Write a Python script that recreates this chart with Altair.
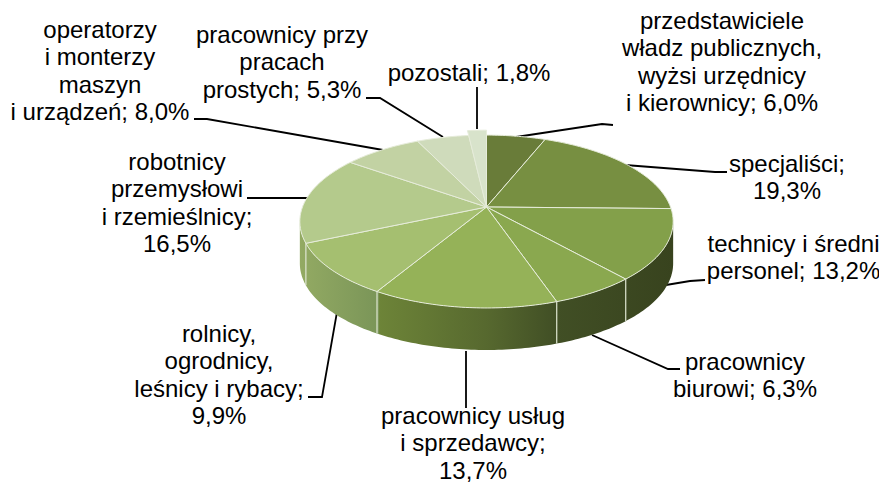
import math
import altair as alt

categories = ["przedstawiciele\nwładz publicznych,\nwyżsi urzędnicy\ni kierownicy; 6,0%", "specjaliści;\n19,3%",
              "technicy i średni\npersonel; 13,2%", "pracownicy\nbiurowi; 6,3%",
              "pracownicy usług\ni sprzedawcy;\n13,7%", "rolnicy,\nogrodnicy,\nleśnicy i rybacy;\n9,9%",
              "robotnicy\nprzemysłowi\ni rzemieślnicy;\n16,5%", "operatorzy\ni monterzy\nmaszyn\ni urządzeń; 8,0%",
              "pracownicy przy\npracach\nprostych; 5,3%", "pozostali; 1,8%"]
shares = [6.0, 19.3, 13.2, 6.3, 13.7, 9.9, 16.5, 8.0, 5.3, 1.8]
colors = ["#697c39", "#778f41", "#83a04a", "#8aa84f", "#95b258", "#a5bf70", "#b4ca8c", "#c2d2a3", "#cfdbbb", "#d8e3cb"]
label_x = [722, 787, 793.5, 745, 473, 219, 177, 100, 282, 469]
label_y = [29, 172, 252, 370, 424, 342, 170, 38, 43, 81]
leaders = [[(516, 137), (602, 124), (613, 125)], [(625, 165), (715, 172), (727, 172)],
           [(660, 286), (690, 281), (705, 280)], [(592, 335), (668, 369), (680, 369)],
           [(466, 351), (466, 408)], [(337, 312), (322, 397), (308, 397)],
           [(308, 198), (247, 198)], [(383, 150), (207, 119), (194, 119)],
           [(443, 137), (380, 98), (366, 98)], [(477, 129), (477, 87)]]
wall_stops = [(302, "#93aa63"), (380, "#7a9558"), (381, "#6d8438"), (486, "#57692f"), (555, "#414f25"), (672, "#38431e")]

MX, MY = 8, 8
HX, HY, R, K, P, DEPTH = 486.5 - MX, 207 - MY, 184, 84, 0.168, 42


def rim(theta, r=1.0):
    X, Y = r * math.sin(theta), -r * math.cos(theta)
    d = 1 - P * Y
    return [HX + R * X / d, HY + K * Y / d]


def feature(ring, color):
    return {"type": "Feature", "geometry": {"type": "Polygon", "coordinates": [ring]}, "properties": {"c": color}}


def line(points):
    return {"type": "Feature", "geometry": {"type": "LineString", "coordinates": points}, "properties": {}}


edges = [0]
for s in shares:
    edges.append(edges[-1] + s / 100 * 2 * math.pi)

wedges = []
for i, c in enumerate(colors):
    a, b = edges[i], edges[i + 1]
    r = 1.08 if i == len(colors) - 1 else 1.0
    n = max(4, int((b - a) * 60))
    ring = [[HX, HY]] + [rim(a + (b - a) * j / n, r) for j in range(n + 1)] + [[HX, HY]]
    wedges.append(feature(ring, c))

t0 = math.acos(-P)
t1 = 2 * math.pi - t0
steps = 160
top = [rim(t0 + (t1 - t0) * j / steps) for j in range(steps + 1)]
wall_ring = top + [[x, y + DEPTH] for x, y in reversed(top)] + [top[0]]
wall_feature = feature(wall_ring, "x")

seams = []
for e in edges[1:-1]:
    if t0 < e < t1:
        x, y = rim(e)
        seams.append(line([[x, y], [x, y + DEPTH]]))

projection = alt.Projection(type="identity", scale=1, translate=[0, 0])

span = wall_stops[-1][0] - wall_stops[0][0]
gradient = alt.Gradient(
    gradient="linear", x1=0, x2=1, y1=0, y2=0,
    stops=[alt.GradientStop(offset=(x - wall_stops[0][0]) / span, color=c) for x, c in wall_stops],
)

wall = alt.Chart(alt.Data(values=[wall_feature])).mark_geoshape(fill=gradient, stroke=None).project(**projection.to_dict())
seam_layer = alt.Chart(alt.Data(values=seams)).mark_geoshape(filled=False, stroke="#dfe6d2", strokeWidth=1.2).project(**projection.to_dict())
top_layer = alt.Chart(alt.Data(values=wedges)).mark_geoshape(stroke="#e6ecda", strokeWidth=1).encode(
    fill=alt.Fill("properties.c:N", scale=None)
).project(**projection.to_dict())

leader_rows = []
for i, pts in enumerate(leaders):
    for j, (x, y) in enumerate(pts):
        leader_rows.append({"id": i, "o": j, "x": x - MX, "y": y - MY})
leader_layer = alt.Chart(alt.Data(values=leader_rows)).mark_line(color="#000000", strokeWidth=1.8).encode(
    x=alt.X("x:Q", scale=None, axis=None), y=alt.Y("y:Q", scale=None, axis=None),
    detail="id:N", order="o:Q",
)

label_rows = [{"t": t, "x": x - MX, "y": y - MY} for t, x, y in zip(categories, label_x, label_y)]
text_layer = alt.Chart(alt.Data(values=label_rows)).mark_text(
    font="Liberation Sans", fontSize=24, lineBreak="\n", lineHeight=27.4, align="center", baseline="alphabetic", color="#000000",
).encode(
    x=alt.X("x:Q", scale=None, axis=None), y=alt.Y("y:Q", scale=None, axis=None), text="t:N",
)

chart = alt.layer(leader_layer, wall, seam_layer, top_layer, text_layer).properties(
    width=871, height=480, padding=0, autosize=alt.AutoSizeParams(type="none"),
).configure_view(stroke=None)

chart.save("out.html", embed_options={"renderer": "svg", "actions": False})
